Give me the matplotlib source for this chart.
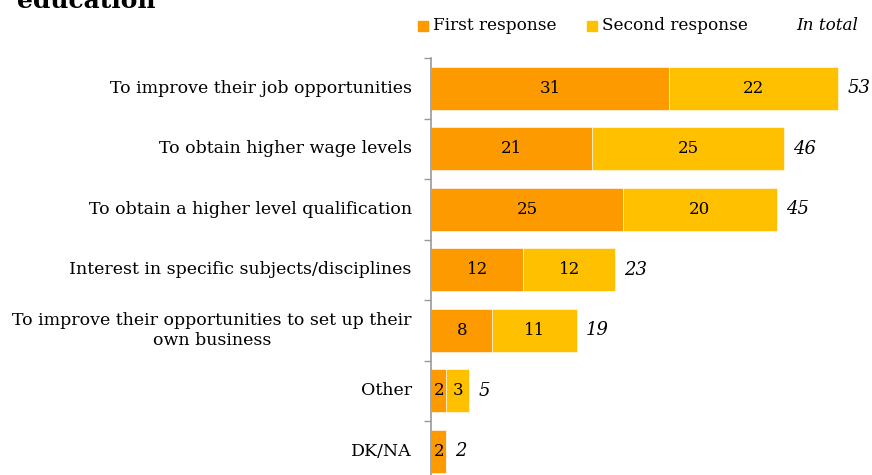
import matplotlib.pyplot as plt
from matplotlib.patches import Rectangle

categories = [
    "To improve their job opportunities",
    "To obtain higher wage levels",
    "To obtain a higher level qualification",
    "Interest in specific subjects/disciplines",
    "To improve their opportunities to set up their\nown business",
    "Other",
    "DK/NA",
]
first_response = [31, 21, 25, 12, 8, 2, 2]
second_response = [22, 25, 20, 12, 11, 3, 0]
in_total = [53, 46, 45, 23, 19, 5, 2]

ORANGE = "#FD9A00"
YELLOW = "#FFC000"
FONT = "DejaVu Serif"

W, H = 872, 475
fig = plt.figure(figsize=(W / 100, H / 100), dpi=100)

# axes placed in pixel terms: y-axis line at x=431, top at y=58, runs off the bottom
left, top = 431, 58
ax = fig.add_axes([left / W, 0, (W - left) / W, (H - top) / H])

px_per_unit = 7.68
row_px = 60.5
ax.set_xlim(0, (W - left) / px_per_unit)
ax.set_ylim((H - top) / row_px - 0.5, -0.5)

ypos = list(range(len(categories)))
bar_h = 0.71

ax.barh(ypos, first_response, height=bar_h, color=ORANGE, edgecolor="white", linewidth=0.4)
ax.barh(ypos, second_response, left=first_response, height=bar_h, color=YELLOW,
        edgecolor="white", linewidth=0.4)

for i in ypos:
    f, s, t = first_response[i], second_response[i], in_total[i]
    ax.text(f / 2, i, str(f), ha="center", va="center", fontsize=12, family=FONT)
    if s:
        ax.text(f + s / 2, i, str(s), ha="center", va="center", fontsize=12, family=FONT)
    ax.text(f + s + 1.2, i, str(t), ha="left", va="center", fontsize=13,
            style="italic", family=FONT)
    ax.text(-2.5, i, categories[i], ha="right", va="center", fontsize=12.5,
            family=FONT, multialignment="center")

# separator ticks between categories
ax.set_yticks([i - 0.5 for i in ypos])
ax.set_yticklabels([])
ax.tick_params(axis="y", length=5, width=1, color="#999999", direction="out")
ax.set_xticks([])
for side in ["top", "right", "bottom"]:
    ax.spines[side].set_visible(False)
ax.spines["left"].set_color("#999999")
ax.spines["left"].set_linewidth(1.2)

# legend row
ly = 1 - 26 / H
fig.patches.append(Rectangle((418 / W, ly - 5 / H), 10 / W, 10 / H, color=ORANGE,
                             transform=fig.transFigure))
fig.text(433 / W, ly, "First response", ha="left", va="center", fontsize=12.2, family=FONT)
fig.patches.append(Rectangle((587 / W, ly - 5 / H), 10 / W, 10 / H, color=YELLOW,
                             transform=fig.transFigure))
fig.text(602 / W, ly, "Second response", ha="left", va="center", fontsize=12.2, family=FONT)
fig.text(858 / W, ly, "In total", ha="right", va="center", fontsize=12.2, style="italic",
         family=FONT)

# title, mostly above the visible area
fig.text(17 / W, 1 - 8 / H, "education", ha="left", va="baseline", fontsize=18,
         fontweight="bold", family=FONT)

fig.savefig("out.png", dpi=100)
